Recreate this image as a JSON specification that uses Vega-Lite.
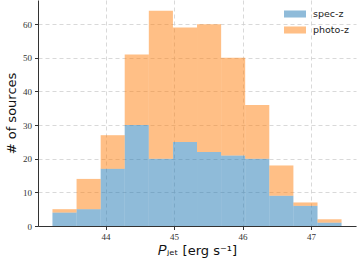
{
  "$schema": "https://vega.github.io/schema/vega-lite/v6.json",
  "width": 318,
  "height": 226,
  "autosize": "none",
  "padding": {"left": 38, "top": 0, "right": 1, "bottom": 41},
  "background": "white",
  "config": {
    "view": {"stroke": null},
    "axis": {
      "gridColor": "#cfcfcf",
      "gridDash": [4, 3],
      "gridWidth": 0.8,
      "domainColor": "#333333",
      "domainWidth": 1,
      "tickColor": "#333333",
      "tickSize": 3.5,
      "labelFont": "Liberation Serif",
      "labelFontSize": 9,
      "labelColor": "#333333",
      "labelPadding": 3,
      "titleFontWeight": "normal",
      "titleColor": "#111111"
    }
  },
  "data": {
    "values": [
      {"lo": 43.224, "hi": 43.576, "series": "spec-z", "n": 4},
      {"lo": 43.576, "hi": 43.928, "series": "spec-z", "n": 5},
      {"lo": 43.928, "hi": 44.279, "series": "spec-z", "n": 17},
      {"lo": 44.279, "hi": 44.631, "series": "spec-z", "n": 30},
      {"lo": 44.631, "hi": 44.983, "series": "spec-z", "n": 20},
      {"lo": 44.983, "hi": 45.335, "series": "spec-z", "n": 25},
      {"lo": 45.335, "hi": 45.687, "series": "spec-z", "n": 22},
      {"lo": 45.687, "hi": 46.038, "series": "spec-z", "n": 21},
      {"lo": 46.038, "hi": 46.390, "series": "spec-z", "n": 20},
      {"lo": 46.390, "hi": 46.742, "series": "spec-z", "n": 9},
      {"lo": 46.742, "hi": 47.094, "series": "spec-z", "n": 6},
      {"lo": 47.094, "hi": 47.445, "series": "spec-z", "n": 1},
      {"lo": 43.224, "hi": 43.576, "series": "photo-z", "n": 1},
      {"lo": 43.576, "hi": 43.928, "series": "photo-z", "n": 9},
      {"lo": 43.928, "hi": 44.279, "series": "photo-z", "n": 10},
      {"lo": 44.279, "hi": 44.631, "series": "photo-z", "n": 21},
      {"lo": 44.631, "hi": 44.983, "series": "photo-z", "n": 44},
      {"lo": 44.983, "hi": 45.335, "series": "photo-z", "n": 34},
      {"lo": 45.335, "hi": 45.687, "series": "photo-z", "n": 38},
      {"lo": 45.687, "hi": 46.038, "series": "photo-z", "n": 29},
      {"lo": 46.038, "hi": 46.390, "series": "photo-z", "n": 16},
      {"lo": 46.390, "hi": 46.742, "series": "photo-z", "n": 9},
      {"lo": 46.742, "hi": 47.094, "series": "photo-z", "n": 1},
      {"lo": 47.094, "hi": 47.445, "series": "photo-z", "n": 1}
    ]
  },
  "transform": [
    {"stack": "n", "groupby": ["lo"], "sort": [{"field": "series", "order": "descending"}], "as": ["y0", "y1"]}
  ],
  "mark": {"type": "rect", "opacity": 0.5, "strokeWidth": 0},
  "encoding": {
    "x": {
      "field": "lo",
      "type": "quantitative",
      "scale": {"domain": [43.013, 47.656], "nice": false, "zero": false},
      "axis": {
        "values": [44, 45, 46, 47],
        "title": "𝑃ⱼₑₜ [erg s⁻¹]",
        "titleFont": "DejaVu Sans",
        "titleFontSize": 13,
        "titlePadding": 3
      }
    },
    "x2": {"field": "hi"},
    "y": {
      "field": "y0",
      "type": "quantitative",
      "scale": {"domain": [0, 67.2], "nice": false},
      "axis": {
        "values": [0, 10, 20, 30, 40, 50, 60],
        "title": "# of sources",
        "titleFont": "DejaVu Sans",
        "titleFontSize": 13,
        "titlePadding": 4
      }
    },
    "y2": {"field": "y1"},
    "color": {
      "field": "series",
      "type": "nominal",
      "scale": {"domain": ["spec-z", "photo-z"], "range": ["#1f77b4", "#ff7f0e"]},
      "legend": {
        "title": null,
        "orient": "none",
        "legendX": 246,
        "legendY": 3,
        "symbolType": "M-1,-0.32L1,-0.32L1,0.32L-1,0.32Z",
        "symbolSize": 484,
        "symbolOpacity": 0.5,
        "symbolStrokeWidth": 0,
        "labelFont": "DejaVu Sans",
        "labelFontSize": 9.5,
        "labelColor": "#222222",
        "labelOffset": 7,
        "rowPadding": -7
      }
    }
  }
}
